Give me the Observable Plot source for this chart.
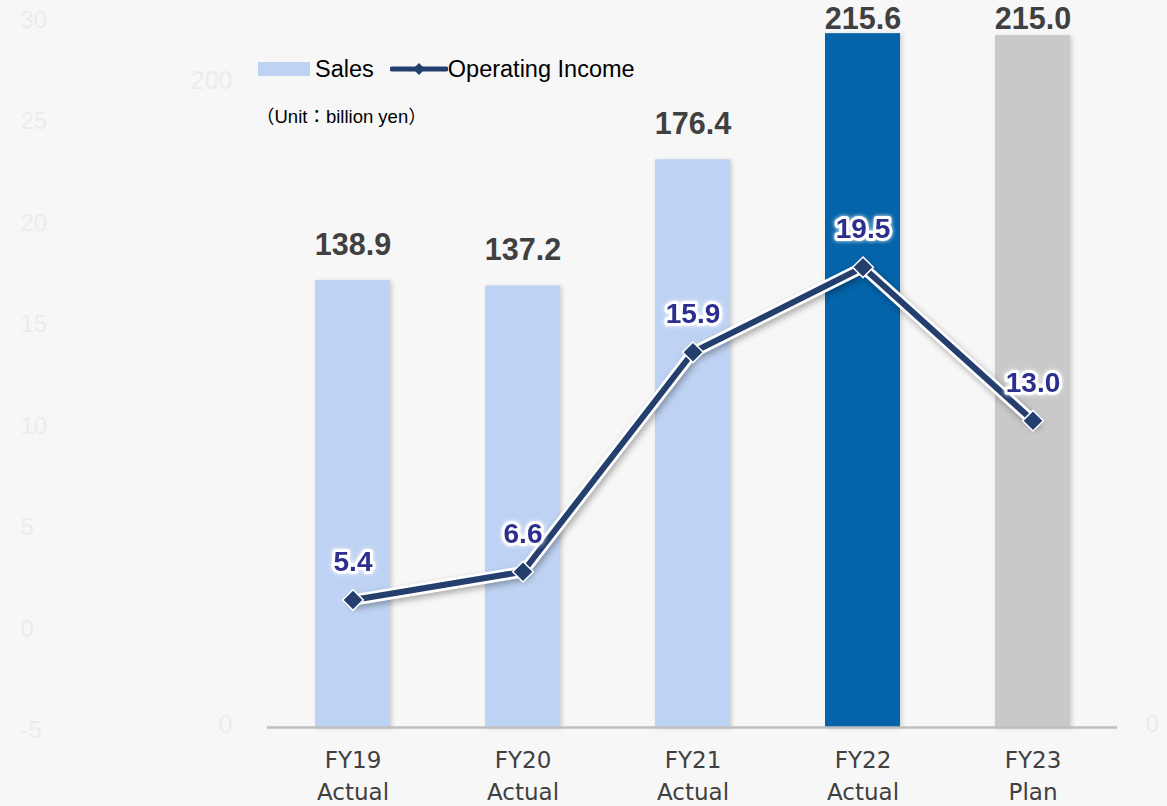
<!DOCTYPE html>
<html><head><meta charset="utf-8">
<script src="https://cdn.jsdelivr.net/npm/d3@7"></script>
<script src="https://cdn.jsdelivr.net/npm/@observablehq/plot@0.6"></script>
<style>
html,body{margin:0;padding:0;background:#f7f7f7;}
#wrap{position:relative;width:1167px;height:806px;overflow:hidden;background:#f7f7f7;}
#chart svg{display:block;}
#legend{position:absolute;left:258px;top:55px;height:28px;display:flex;align-items:center;font-family:"Liberation Sans",Arial,sans-serif;font-size:23.5px;color:#000;white-space:nowrap;}
#unit{position:absolute;left:256px;top:102px;font-family:"Liberation Sans","Noto Sans CJK JP",Arial,sans-serif;font-size:18.5px;color:#000;white-space:nowrap;}
</style></head>
<body>
<div id="wrap"><div id="chart"></div><div id="legend"></div><div id="unit"></div></div>
<script>
// ---- data ----
const fiscalYears = ["FY19", "FY20", "FY21", "FY22", "FY23"];
const periodTypes = ["Actual", "Actual", "Actual", "Actual", "Plan"];
const sales = [138.9, 137.2, 176.4, 215.6, 215.0];
const operatingIncome = [5.4, 6.6, 15.9, 19.5, 13.0];
const seriesNames = ["Sales", "Operating Income"];
const unitLabel = "（Unit：billion yen）";
const faintLeftTicks = [-5, 0, 5, 10, 15, 20, 25, 30];
const faintSalesTicks = [0, 200];
const faintRightTicks = [0];

// ---- styles ----
const barColors = ["#bed3f3", "#bed3f3", "#bed3f3", "#0563a9", "#c9c9c9"];
const lineColor = "#243f6e";
const oiLabelColor = "#2c2f8e";
const faint = "#ececec";

const categories = fiscalYears.map((f, i) => f + "\n" + periodTypes[i]);
const data = categories.map((c, i) => ({cat: c, sales: sales[i], oi: operatingIncome[i]}));
const K = 220 / 30; // operating income axis 0..30 spans the sales axis 0..220
const faintMap = d3.scaleLinear().domain([-5, 30]).range([-0.9, 219.8]);

const plot = Plot.plot({
  width: 1167, height: 806,
  marginTop: 19, marginBottom: 79, marginLeft: 267, marginRight: 50,
  style: {background: "transparent", fontFamily: "'Liberation Sans', Arial, sans-serif", overflow: "visible"},
  x: {domain: categories, paddingInner: 0.56, paddingOuter: 0.28, axis: null},
  y: {domain: [0, 220], axis: null},
  color: {domain: categories, range: barColors},
  marks: [
    Plot.text(faintLeftTicks, {y: t => faintMap(t), text: t => String(t), frameAnchor: "left", textAnchor: "start", dx: -247, fill: faint, fontSize: 24}),
    Plot.text(faintSalesTicks, {y: t => t, text: t => String(t), frameAnchor: "left", textAnchor: "end", dx: -35, dy: -3, fill: faint, fontSize: 25}),
    Plot.text(faintRightTicks, {y: t => t, text: t => String(t), frameAnchor: "right", textAnchor: "start", dx: 28, dy: -3, fill: faint, fontSize: 24}),
    Plot.barY(data, {x: "cat", y: "sales", fill: "cat"}),
    Plot.ruleY([0], {stroke: "#bfbfbf", strokeWidth: 2.5}),
    Plot.axisX({tickSize: 0, tickPadding: 18, fontSize: 23, lineHeight: 1.39, fill: "#404040", fontFamily: "'DejaVu Sans', Verdana, sans-serif", label: null}),
    Plot.text(data, {x: "cat", y: d => Math.min(d.sales + 11, 220.2), text: d => d.sales.toFixed(1), fontSize: 30.5, fontWeight: "bold", fill: "#404040"}),
    Plot.line(data, {x: "cat", y: d => d.oi * K, stroke: "white", strokeWidth: 11.5}),
    Plot.line(data, {x: "cat", y: d => d.oi * K, stroke: lineColor, strokeWidth: 6}),
    Plot.dot(data, {x: "cat", y: d => d.oi * K, symbol: "diamond2", r: 9.3, fill: lineColor, stroke: "white", strokeWidth: 1.5}),
    Plot.text(data, {x: "cat", y: d => d.oi * K, dy: -38, text: d => d.oi.toFixed(1), fontSize: 28, fontWeight: "bold", fill: oiLabelColor, stroke: "white", strokeWidth: 6})
  ]
});
document.getElementById("chart").appendChild(plot);

// soft shadows
const bars = plot.querySelector('g[aria-label="bar"]');
if (bars) bars.style.filter = "drop-shadow(2px 1px 2px rgba(0,0,0,0.16))";
const lines = plot.querySelectorAll('g[aria-label="line"]');
if (lines[0]) lines[0].style.filter = "drop-shadow(2px 3px 3px rgba(0,0,0,0.3))";
const texts = plot.querySelectorAll('g[aria-label="text"]');
const oiText = texts[texts.length - 1];
if (oiText) oiText.style.filter = "drop-shadow(0px 0px 2px rgba(255,255,255,0.9))";

// legend
const legend = document.getElementById("legend");
legend.innerHTML =
  `<span style="display:inline-block;width:52px;height:14px;background:${barColors[0]}"></span>` +
  `<span style="margin-left:5px">${seriesNames[0]}</span>` +
  `<svg width="58" height="20" style="margin-left:16px"><line x1="2" y1="10" x2="56" y2="10" stroke="${lineColor}" stroke-width="5" stroke-linecap="round"/><path d="M29,4 L35,10 L29,16 L23,10Z" fill="${lineColor}"/></svg>` +
  `<span>${seriesNames[1]}</span>`;
document.getElementById("unit").textContent = unitLabel;
</script>
</body></html>
